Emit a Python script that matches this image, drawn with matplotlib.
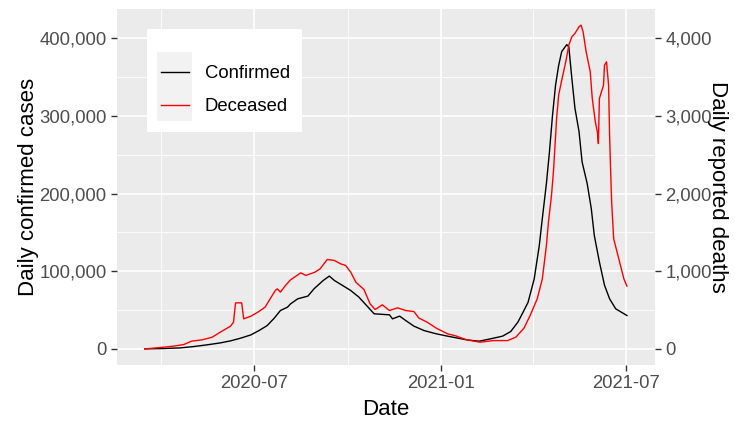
import pandas as pd
import matplotlib.pyplot as plt
import matplotlib.dates as mdates
from matplotlib.patches import Rectangle
from matplotlib.ticker import FuncFormatter, MultipleLocator

plt.rcParams["font.family"] = ["Liberation Sans", "DejaVu Sans"]

# daily confirmed cases (7-day average)
confirmed_dates = [
    "2020-03-16", "2020-04-04", "2020-04-20", "2020-05-03", "2020-05-16",
    "2020-05-29", "2020-06-08", "2020-06-18", "2020-06-28", "2020-07-06",
    "2020-07-14", "2020-07-21", "2020-07-27", "2020-08-03", "2020-08-06",
    "2020-08-13", "2020-08-23", "2020-08-29", "2020-09-07", "2020-09-13",
    "2020-09-18", "2020-09-26", "2020-10-04", "2020-10-12", "2020-10-21",
    "2020-10-27", "2020-11-11", "2020-11-14", "2020-11-21", "2020-11-27",
    "2020-12-05", "2020-12-15", "2020-12-27", "2021-01-07", "2021-01-26",
    "2021-02-07", "2021-02-18", "2021-03-02", "2021-03-10", "2021-03-17",
    "2021-03-22", "2021-03-27", "2021-04-02", "2021-04-07", "2021-04-10",
    "2021-04-14", "2021-04-17", "2021-04-20", "2021-04-23", "2021-04-26",
    "2021-04-29", "2021-05-04", "2021-05-06", "2021-05-09", "2021-05-12",
    "2021-05-16", "2021-05-19", "2021-05-24", "2021-05-28", "2021-05-31",
    "2021-06-05", "2021-06-10", "2021-06-15", "2021-06-21", "2021-07-02",
]
confirmed = [
    0, 500, 1300, 3000, 5200,
    7700, 10300, 13800, 18000, 23600,
    30000, 39600, 49400, 53800, 58000,
    64500, 68000, 77400, 88100, 93800,
    88100, 81700, 75200, 66700, 53800,
    45200, 43900, 38700, 42200, 36500,
    29300, 23600, 19400, 16400, 11600,
    9900, 12900, 16400, 22400, 34400,
    47000, 60000, 90000, 133000, 168000,
    213000, 254000, 301000, 340000, 365000,
    383000, 392000, 389000, 348000, 310000,
    280000, 241000, 213000, 181000, 146000,
    112000, 82000, 64500, 51600, 43000,
]

# daily reported deaths (7-day average)
deceased_dates = [
    "2020-03-16", "2020-04-02", "2020-04-13", "2020-04-23", "2020-05-01",
    "2020-05-11", "2020-05-21", "2020-05-29", "2020-06-08", "2020-06-11",
    "2020-06-13", "2020-06-19", "2020-06-21", "2020-06-28", "2020-07-06",
    "2020-07-12", "2020-07-17", "2020-07-22", "2020-07-24", "2020-07-27",
    "2020-08-01", "2020-08-06", "2020-08-16", "2020-08-21", "2020-08-30",
    "2020-09-04", "2020-09-11", "2020-09-18", "2020-09-24", "2020-09-29",
    "2020-10-04", "2020-10-09", "2020-10-17", "2020-10-23", "2020-10-28",
    "2020-11-04", "2020-11-11", "2020-11-19", "2020-11-27", "2020-12-05",
    "2020-12-10", "2020-12-18", "2020-12-27", "2021-01-07", "2021-01-14",
    "2021-01-26", "2021-02-08", "2021-02-21", "2021-03-07", "2021-03-15",
    "2021-03-23", "2021-03-29", "2021-04-05", "2021-04-10", "2021-04-14",
    "2021-04-16", "2021-04-19", "2021-04-21", "2021-04-24", "2021-04-26",
    "2021-04-29", "2021-05-03", "2021-05-06", "2021-05-09", "2021-05-12",
    "2021-05-16", "2021-05-18", "2021-05-20", "2021-05-23", "2021-05-27",
    "2021-05-29", "2021-06-01", "2021-06-03", "2021-06-04", "2021-06-05",
    "2021-06-09", "2021-06-10", "2021-06-12", "2021-06-14", "2021-06-15",
    "2021-06-16", "2021-06-17", "2021-06-19", "2021-06-24", "2021-06-29",
    "2021-07-02",
]
deceased = [
    0, 20, 35, 55, 100,
    116, 150, 215, 292, 344,
    593, 593, 387, 421, 482,
    538, 645, 752, 774, 731,
    817, 890, 980, 946, 989,
    1032, 1152, 1139, 1096, 1075,
    989, 860, 765, 580, 507,
    568, 494, 529, 494, 481,
    396, 344, 267, 194, 172,
    116, 86, 107, 107, 151,
    267, 430, 645, 903, 1333,
    1634, 1978, 2300, 2967, 3268,
    3461, 3698, 3913, 4021, 4064,
    4150, 4171, 4085, 3827, 3569,
    3225, 2924, 2795, 2645, 3225,
    3397, 3655, 3698, 3397, 2752,
    2300, 1892, 1419, 1161, 903,
    809,
]

scale = 100  # deaths are drawn on the case axis, multiplied by this

cases = pd.DataFrame({"date": pd.to_datetime(confirmed_dates), "n": confirmed})
deaths = pd.DataFrame({"date": pd.to_datetime(deceased_dates), "n": deceased})

fig = plt.figure(figsize=(7.35, 4.25), dpi=100)
ax = fig.add_axes([0.159, 0.141, 0.732, 0.838])
ax.set_facecolor("#EBEBEB")
for s in ax.spines.values():
    s.set_visible(False)

ax.plot(cases["date"], cases["n"], color="black", lw=1.0, label="Confirmed")
ax.plot(deaths["date"], deaths["n"] * scale, color="#FF0000", lw=1.0, label="Deceased")
ax.margins(x=0.058, y=0.05)

ax.xaxis.set_major_locator(mdates.MonthLocator(bymonth=[1, 7]))
ax.xaxis.set_minor_locator(mdates.MonthLocator(bymonth=[4, 10]))
ax.xaxis.set_major_formatter(mdates.DateFormatter("%Y-%m"))
ax.yaxis.set_major_locator(MultipleLocator(100000))
ax.yaxis.set_minor_locator(MultipleLocator(50000))
ax.yaxis.set_major_formatter(FuncFormatter(lambda v, p: f"{v:,.0f}"))

ax.grid(which="major", color="white", lw=1.2)
ax.grid(which="minor", color="white", lw=0.6)
ax.set_axisbelow(True)

tick_kw = dict(colors="#333333", labelcolor="#4D4D4D", labelsize=13.3, length=4, width=1)
ax.tick_params(which="major", **tick_kw)
ax.tick_params(which="minor", length=0)

sec = ax.secondary_yaxis("right", functions=(lambda v: v / scale, lambda v: v * scale))
sec.yaxis.set_major_locator(MultipleLocator(1000))
sec.yaxis.set_major_formatter(FuncFormatter(lambda v, p: f"{v:,.0f}"))
sec.tick_params(**tick_kw)
for s in sec.spines.values():
    s.set_visible(False)

ax.set_xlabel("Date", fontsize=16, labelpad=5)
ax.set_ylabel("Daily confirmed cases", fontsize=16, labelpad=0)
sec.set_ylabel("Daily reported deaths", fontsize=16, rotation=-90,
               rotation_mode="anchor", ha="center", va="center")
sec.yaxis.set_label_coords(1.117, 0.5, transform=ax.transAxes)

# legend box with grey key background
ax.add_patch(Rectangle((0.0567, 0.6545), 0.2872, 0.2893, transform=ax.transAxes,
                       facecolor="white", edgecolor="none", zorder=4))
ax.add_patch(Rectangle((0.0743, 0.6854), 0.0651, 0.1938, transform=ax.transAxes,
                       facecolor="#F2F2F2", edgecolor="none", zorder=4))
leg = ax.legend(loc="upper left", bbox_to_anchor=(0.069, 0.862), frameon=False,
                fontsize=13.3, handlelength=1.5, handletextpad=0.85, labelspacing=0.85,
                borderaxespad=0)
leg.set_zorder(5)

fig.savefig("out.png", dpi=100)
